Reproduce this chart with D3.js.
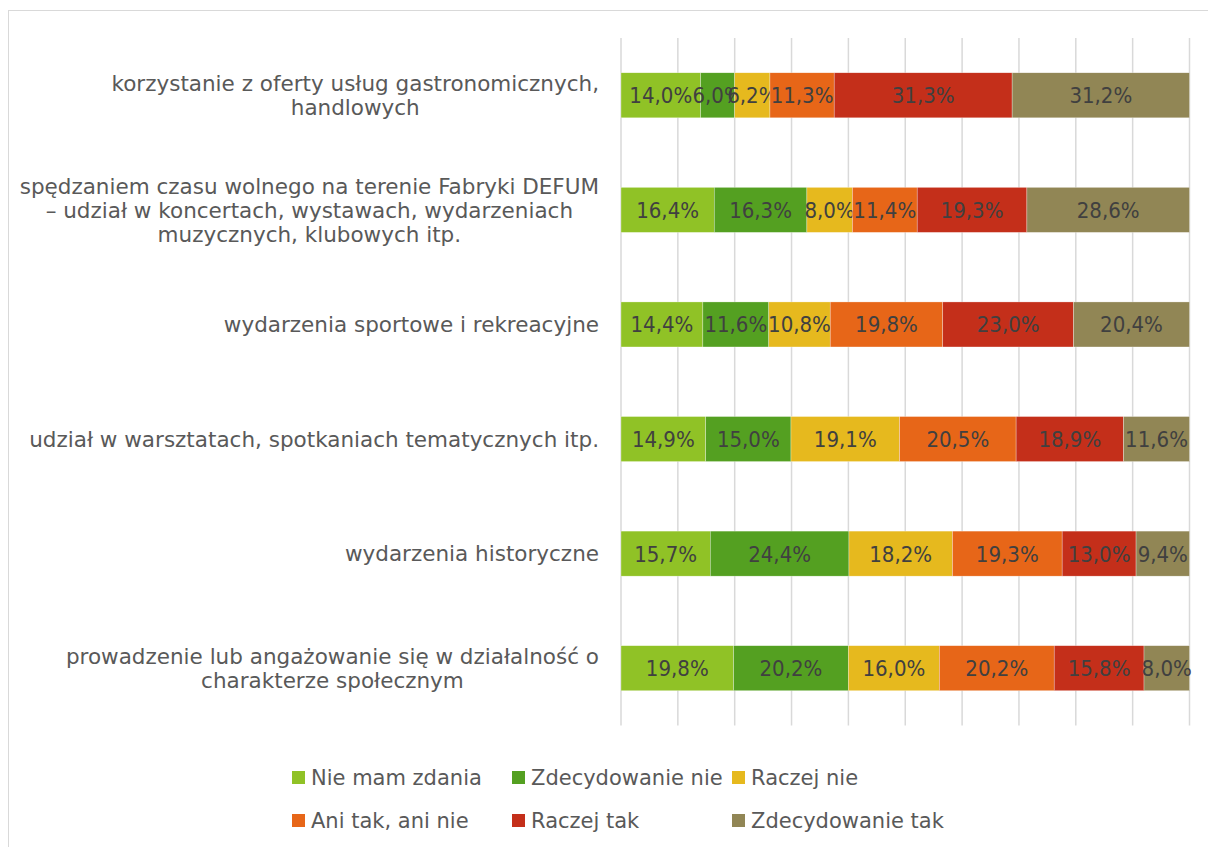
<!DOCTYPE html>
<html>
<head>
<meta charset="utf-8">
<script src="https://cdn.jsdelivr.net/npm/d3@7"></script>
<style>
  body { margin: 0; background: #fff; }
  svg { display: block; font-family: "DejaVu Sans Condensed", "DejaVu Sans", sans-serif; }
  .cat, .leg { font-family: "DejaVu Sans", sans-serif; }
</style>
</head>
<body>
<svg id="chart"></svg>
<script>
// categories (each label split in lines, as in the original)
const categories = [
  ["korzystanie z oferty usług gastronomicznych,", "handlowych"],
  ["spędzaniem czasu wolnego na terenie Fabryki DEFUM", "– udział w koncertach, wystawach, wydarzeniach", "muzycznych, klubowych itp."],
  ["wydarzenia sportowe i rekreacyjne"],
  ["udział w warsztatach, spotkaniach tematycznych itp."],
  ["wydarzenia historyczne"],
  ["prowadzenie lub angażowanie się w działalność o", "charakterze społecznym"]
];

const seriesNames = ["Nie mam zdania", "Zdecydowanie nie", "Raczej nie", "Ani tak, ani nie", "Raczej tak", "Zdecydowanie tak"];
const seriesColors = ["#90C226", "#54A021", "#E6B91E", "#E76618", "#C42F1A", "#918655"];

// values in %, one array per series, same order as categories
const nieMamZdania    = [14.0, 16.4, 14.4, 14.9, 15.7, 19.8];
const zdecydowanieNie = [6.0, 16.3, 11.6, 15.0, 24.4, 20.2];
const raczejNie       = [6.2, 8.0, 10.8, 19.1, 18.2, 16.0];
const aniTakAniNie    = [11.3, 11.4, 19.8, 20.5, 19.3, 20.2];
const raczejTak       = [31.3, 19.3, 23.0, 18.9, 13.0, 15.8];
const zdecydowanieTak = [31.2, 28.6, 20.4, 11.6, 9.4, 8.0];

const seriesValues = [nieMamZdania, zdecydowanieNie, raczejNie, aniTakAniNie, raczejTak, zdecydowanieTak];

const xTicks = d3.range(0, 101, 10);

const width = 1208, height = 847;
const plot = {left: 621, right: 1189.5, top: 38, bottom: 725.5};

let svg = d3.select("#chart")
    .attr("width", width)
    .attr("height", height);

// chart area border (runs off the right / bottom edge)
svg.append("rect")
    .attr("x", 8.5).attr("y", 10.5)
    .attr("width", 1400).attr("height", 1000)
    .attr("fill", "none")
    .attr("stroke", "#d9d9d9");

let x = d3.scaleLinear()
    .domain([0, 100])
    .range([plot.left, plot.right]);

let y = d3.scaleBand()
    .domain(d3.range(categories.length))
    .range([plot.top, plot.bottom])
    .paddingInner(0.607)
    .paddingOuter(0.3035);

// vertical gridlines
svg.append("g")
  .selectAll("line")
  .data(xTicks)
  .join("line")
    .attr("x1", d => x(d)).attr("x2", d => x(d))
    .attr("y1", plot.top).attr("y2", plot.bottom)
    .attr("stroke", "#d9d9d9")
    .attr("stroke-width", 1.5);

// stack the series per category
let rows = categories.map((c, i) => {
  let row = {idx: i};
  seriesNames.forEach((s, j) => row[s] = seriesValues[j][i]);
  return row;
});
let stack = d3.stack().keys(seriesNames)(rows);

let layers = svg.append("g")
  .selectAll("g")
  .data(stack)
  .join("g")
    .attr("fill", (d, i) => seriesColors[i]);

layers.selectAll("rect")
  .data(d => d)
  .join("rect")
    .attr("x", d => x(d[0]))
    .attr("y", d => y(d.data.idx))
    .attr("width", d => x(d[1]) - x(d[0]))
    .attr("height", y.bandwidth())
    .attr("stroke", "#fff")
    .attr("stroke-width", 0.5)
    .attr("stroke-opacity", 0.6);

// data labels, decimal comma
let fmt = v => v.toFixed(1).replace(".", ",") + "%";

layers.selectAll("text")
  .data(d => d)
  .join("text")
    .attr("x", d => (x(d[0]) + x(d[1])) / 2)
    .attr("y", d => y(d.data.idx) + y.bandwidth() / 2)
    .attr("dy", "0.36em")
    .attr("text-anchor", "middle")
    .attr("fill", "#404040")
    .attr("font-size", "22px")
    .text(d => fmt(d[1] - d[0]));

// category labels: lines centred on each other, block right-aligned
const labelRight = 599, lineH = 24;
categories.forEach((lines, i) => {
  let g = svg.append("g");
  let cy = y(i) + y.bandwidth() / 2;
  let t = g.selectAll("text")
    .data(lines)
    .join("text")
      .classed("cat", true)
      .attr("x", 0)
      .attr("y", (d, k) => cy + (k - (lines.length - 1) / 2) * lineH)
      .attr("dy", "0.36em")
      .attr("text-anchor", "middle")
      .attr("fill", "#595959")
      .attr("font-size", "21.5px")
      .text(d => d);
  let maxW = d3.max(t.nodes(), n => n.getComputedTextLength());
  g.attr("transform", `translate(${labelRight - maxW / 2},0)`);
});

// legend, two rows of three
const legendX = [292, 512, 732], legendY = [777.5, 820.5];
let legend = svg.append("g")
  .selectAll("g")
  .data(seriesNames)
  .join("g")
    .attr("transform", (d, i) => `translate(${legendX[i % 3]},${legendY[Math.floor(i / 3)]})`);

legend.append("rect")
    .attr("x", 0).attr("y", -6.5)
    .attr("width", 13).attr("height", 13)
    .attr("fill", (d, i) => seriesColors[i]);

legend.append("text")
    .classed("leg", true)
    .attr("x", 19)
    .attr("dy", "0.36em")
    .attr("fill", "#595959")
    .attr("font-size", "21px")
    .text(d => d);
</script>
</body>
</html>
